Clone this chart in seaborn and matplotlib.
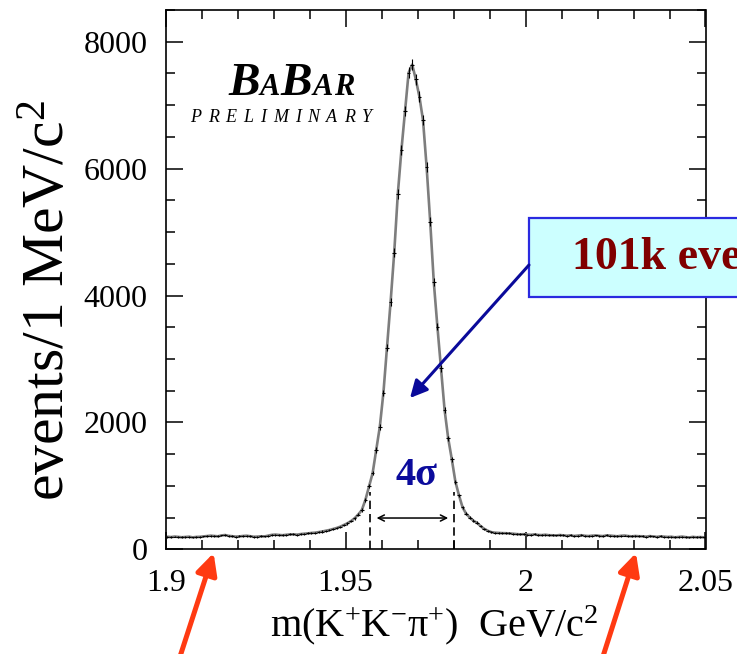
import numpy as np
import pandas as pd
import matplotlib
matplotlib.use("Agg")
import matplotlib.pyplot as plt
import seaborn as sns
from matplotlib.patches import Rectangle, FancyArrowPatch
from matplotlib.ticker import MultipleLocator

# ---------------- data: m(K+K-pi+) histogram, 1 MeV bins from 1.900 GeV ----------------
mass_lo = 1.900
bin_width = 0.001
counts = [
    198, 193, 201, 196, 190, 194, 199, 188, 195, 197,
    203, 208, 215, 210, 205, 218, 225, 212, 206, 200,
    204, 210, 214, 206, 198, 200, 205, 203, 215, 228,
    232, 226, 222, 229, 234, 236, 231, 240, 246, 250,
    258, 262, 271, 280, 293, 304, 320, 336, 356, 383,
    410, 445, 489, 548, 619, 780, 990, 1200, 1565, 1932,
    2468, 3177, 3903, 4675, 5600, 6293, 6908, 7511, 7640, 7407,
    7133, 6766, 6030, 5163, 4210, 3508, 2853, 2196, 1750, 1420,
    1066, 850, 660, 560, 500, 450, 418, 365, 323, 292,
    270, 262, 258, 255, 254, 250, 246, 240, 236, 238,
    232, 228, 235, 226, 224, 230, 222, 221, 218, 225,
    219, 214, 220, 210, 216, 222, 213, 209, 215, 218,
    212, 208, 219, 216, 211, 205, 213, 217, 209, 204,
    210, 206, 205, 199, 208, 202, 196, 204, 200, 195,
    198, 189, 194, 200, 192, 187, 196, 190, 193, 189,
]
x_ticks = [1.9, 1.95, 2.0, 2.05]
x_ticklabels = ["1.9", "1.95", "2", "2.05"]
y_ticks = [0, 2000, 4000, 6000, 8000]
sigma_window = [1.9569, 1.9801]     # +-2 sigma around the D_s peak

centers = mass_lo + bin_width * (np.arange(len(counts)) + 0.5)
df = pd.DataFrame({"mass": centers, "events": counts})

# ---------------- style ----------------
sns.set_theme(style="ticks")
plt.rcParams["font.family"] = ["Liberation Serif", "DejaVu Serif"]
plt.rcParams["mathtext.fontset"] = "custom"
plt.rcParams["mathtext.rm"] = "Liberation Serif"
plt.rcParams["mathtext.it"] = "Liberation Serif:italic"
plt.rcParams["mathtext.bf"] = "Liberation Serif:bold"

W, H = 737, 654
fig = plt.figure(figsize=(W / 100, H / 100), dpi=100)
fig.patch.set_facecolor("white")
ax = fig.add_axes([165.7 / W, 1 - 549.3 / H, (705.5 - 165.7) / W, (549.3 - 10) / H])
ax.set_facecolor("white")

# fit curve through the bins, then data points with error crosses
sns.lineplot(data=df, x="mass", y="events", color="#7d7d7d", lw=1.9, ax=ax)
ax.errorbar(df["mass"], df["events"], xerr=bin_width / 2, yerr=np.sqrt(df["events"]),
            fmt="none", ecolor="black", elinewidth=0.8, capsize=0)

ax.set_xlim(1.9, 2.05)
ax.set_ylim(0, 8500)
ax.set_xticks(x_ticks)
ax.set_xticklabels(x_ticklabels)
ax.set_yticks(y_ticks)
ax.xaxis.set_minor_locator(MultipleLocator(0.01))
ax.yaxis.set_minor_locator(MultipleLocator(500))
ax.tick_params(which="both", direction="in", top=True, right=True, colors="black",
               labelsize=23, width=1.1)
ax.tick_params(which="major", length=12.5)
ax.tick_params(which="minor", length=6.5)
ax.tick_params(axis="x", pad=14)
ax.tick_params(axis="y", pad=13)
for s in ax.spines.values():
    s.set_color("black")
    s.set_linewidth(1.2)

ax.set_xlabel(r"m(K$^{+}$K$^{-}$π$^{+}$)  GeV/c$^{2}$", fontsize=29, color="black")
ax.set_ylabel(r"events/1 MeV/c$^{2}$", fontsize=43, color="black")
ax.xaxis.set_label_coords(0.498, -0.101)
ax.yaxis.set_label_coords(-0.163, 0.462)

# +-2 sigma window
ax.vlines(sigma_window, 0, 900, colors="black", linestyles=(0, (5, 3)), lw=1.2)
ax.annotate("", xy=(1.9586, 493), xytext=(1.9785, 493),
            arrowprops=dict(arrowstyle="<->", color="black", lw=1.1,
                            mutation_scale=11, shrinkA=0, shrinkB=0))
ax.text(1.9698, 1171, "4σ", color="#0b0b9c", fontsize=29, fontweight="bold",
        ha="center", va="center")

# ---------------- BABAR logo: tall B's, small A's and R ----------------
logo = [("B", 34), ("A", 22), ("B", 34), ("A", 22), ("R", 22)]
xpos = 228.0
for ch, size in logo:
    fig.text(xpos / W, 1 - 95 / H, ch, fontsize=size, fontweight="bold", style="italic",
             ha="left", va="baseline", color="black")
    xpos += 0.667 * size * 100 / 72 + 0.5

# letter-spaced "PRELIMINARY" (Times italic advance widths, em units)
prelim = "PRELIMINARY"
adv = [0.611, 0.611, 0.611, 0.556, 0.333, 0.833, 0.333, 0.667, 0.611, 0.611, 0.556]
em_px = 13 * 100 / 72
gap = (182 - sum(adv) * em_px) / (len(prelim) - 1)
xpos = 190.0
for ch, a in zip(prelim, adv):
    fig.text(xpos / W, 1 - 122 / H, ch, fontsize=13, style="italic",
             ha="left", va="baseline", color="black")
    xpos += a * em_px + gap

# ---------------- event count call-out ----------------
fig.add_artist(Rectangle((529 / W, 1 - 297 / H), (780 - 529) / W, 79 / H,
                         transform=fig.transFigure, facecolor="#ccffff",
                         edgecolor="#2a2ae0", lw=1.6, clip_on=False))
fig.text(572 / W, 1 - 258 / H, "101k events", color="#800000", fontsize=33,
         fontweight="bold", ha="left", va="center")
fig.add_artist(FancyArrowPatch((529 / W, 1 - 265 / H), (410 / W, 1 - 398 / H),
                               transform=fig.transFigure, arrowstyle="-|>",
                               mutation_scale=26, color="#0a0a9a", lw=2.2,
                               shrinkA=0, shrinkB=0))

# ---------------- sideband arrows ----------------
for (x0, x1) in [(175, 213.6), (598, 636)]:
    fig.add_artist(FancyArrowPatch((x0 / W, 1 - 672 / H), (x1 / W, 1 - 553 / H),
                                   transform=fig.transFigure, arrowstyle="-|>",
                                   mutation_scale=32, color="#ff3a12", lw=3.6,
                                   shrinkA=0, shrinkB=0))

fig.savefig("out.png", dpi=100, facecolor="white")
